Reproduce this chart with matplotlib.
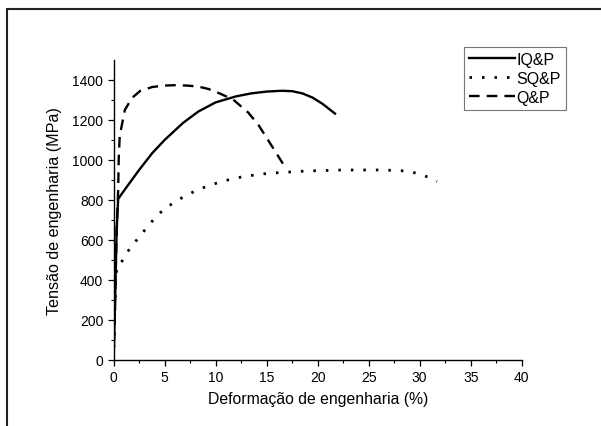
import numpy as np
import matplotlib.pyplot as plt
from matplotlib.patches import Rectangle

plt.rcParams['font.family'] = ['Liberation Sans', 'DejaVu Sans']

# curvas tensão-deformação
iqp_x = [0.0, 0.15, 0.3, 0.45, 1.0, 2.5, 3.8, 5.0, 6.8, 8.3, 10.0, 12.0, 13.5, 15.0, 16.5, 17.5, 18.5, 19.5, 20.5, 21.7]
iqp_y = [0, 300, 650, 805, 845, 950, 1035, 1100, 1185, 1242, 1288, 1318, 1333, 1342, 1346, 1344, 1333, 1312, 1280, 1232]

sqp_x = [0.0, 0.1, 0.2, 0.35, 0.75, 1.3, 2.45, 3.8, 4.9, 6.4, 8.3, 10.6, 12.8, 15.1, 18.9, 22.6, 26.4, 28.7, 30.2, 31.7]
sqp_y = [0, 200, 400, 470, 487, 537, 612, 695, 753, 803, 853, 893, 918, 933, 945, 950, 950, 945, 928, 893]

qp_x = [0.0, 0.15, 0.3, 0.45, 0.5, 0.6, 1.1, 1.8, 2.6, 3.8, 5.0, 6.0, 7.2, 8.3, 9.3, 10.2, 11.7, 13.2, 14.2, 15.1, 16.0, 16.8]
qp_y = [0, 300, 650, 850, 1000, 1120, 1250, 1310, 1345, 1365, 1372, 1374, 1372, 1367, 1355, 1337, 1303, 1237, 1175, 1103, 1030, 965]

fig = plt.figure(figsize=(6.01, 4.27), dpi=100)
ax = fig.add_axes([0.189, 0.1546, 0.679, 0.7026])

ax.plot(iqp_x, iqp_y, color='black', lw=1.7, ls='-', label='IQ&P')
ax.plot(sqp_x, sqp_y, color='black', lw=2.0, ls=(0, (0.9, 3.6)), label='SQ&P')
ax.plot(qp_x, qp_y, color='black', lw=1.7, ls=(0, (4.5, 3)), label='Q&P')

ax.set_xlim(0, 40)
ax.set_ylim(0, 1500)
ax.set_xticks(np.arange(0, 41, 5))
ax.set_yticks(np.arange(0, 1401, 200))
ax.set_xticks(np.arange(2.5, 40, 5), minor=True)
ax.set_yticks(np.arange(100, 1500, 200), minor=True)
ax.tick_params(which='major', direction='out', length=4, width=0.9, labelsize=10)
ax.tick_params(which='minor', direction='out', length=2.5, width=0.8)
for s in ['top', 'right']:
    ax.spines[s].set_visible(False)
for s in ['left', 'bottom']:
    ax.spines[s].set_linewidth(1.0)

ax.set_xlabel('Deformação de engenharia (%)', fontsize=11.3, labelpad=5)
ax.set_ylabel('Tensão de engenharia (MPa)', fontsize=11.6, labelpad=7)

leg = ax.legend(loc='upper left', bbox_to_anchor=(464 / 601, 1 - 48 / 427),
                bbox_transform=fig.transFigure, fontsize=11.5, frameon=True,
                fancybox=False, edgecolor='#555555', handlelength=2.9,
                handletextpad=0.1, borderpad=0.3, labelspacing=0.25,
                borderaxespad=0)
leg.get_frame().set_linewidth(0.8)

# moldura externa
fig.patches.append(Rectangle((7 / 601, -0.1), 1.2, 1 - 9.5 / 427 + 0.1,
                             transform=fig.transFigure, fill=False,
                             edgecolor='#222222', lw=1.5))

fig.savefig('out.png', dpi=100)
